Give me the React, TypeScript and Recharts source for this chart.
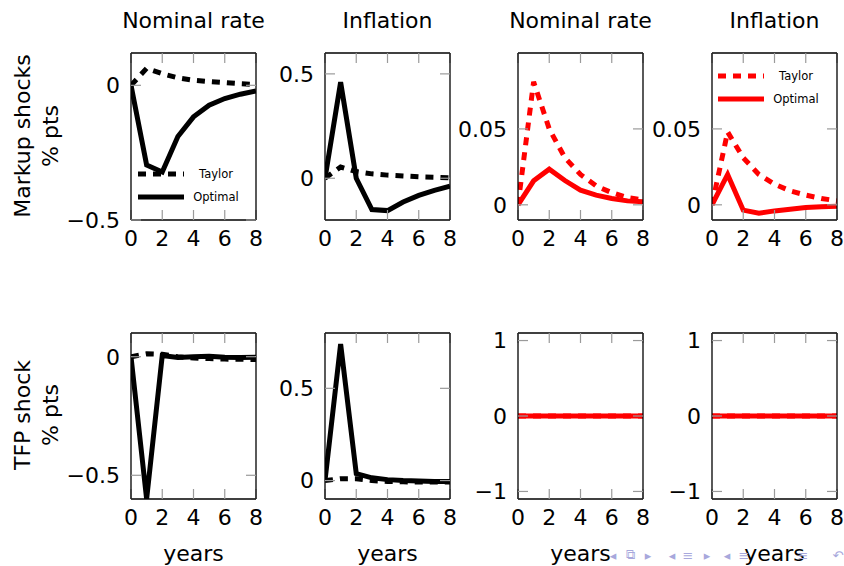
import React from 'react';
import { LineChart, Line, XAxis, YAxis, Legend } from 'recharts';

const FONT = '"DejaVu Sans", sans-serif';

// ---- shared labels ----
const years = [0, 1, 2, 3, 4, 5, 6, 7, 8];
const xTicks = [0, 2, 4, 6, 8];
const seriesNames = ['Taylor', 'Optimal'];
const columnTitles = ['Nominal rate', 'Inflation', 'Nominal rate', 'Inflation'];
const rowLabels = [
  ['Markup shocks', '% pts'],
  ['TFP shock', '% pts'],
];
const xAxisTitle = 'years';
const navSymbols = ['◂', '⧉', '▸', '◂', '≡', '▸', '◂', '≡', '≡', '↶'];

// ---- Markup shocks (black) ----
const markupRateTaylor = [0, 0.063, 0.043, 0.028, 0.019, 0.014, 0.01, 0.006, 0.003];
const markupRateOptimal = [0, -0.296, -0.322, -0.19, -0.117, -0.074, -0.049, -0.033, -0.021];
const markupInflTaylor = [0, 0.054, 0.032, 0.021, 0.015, 0.011, 0.007, 0.005, 0.002];
const markupInflOptimal = [0, 0.46, 0.0, -0.15, -0.155, -0.114, -0.082, -0.058, -0.038];
// ---- Markup shocks (red) ----
const markupRateTaylorR = [0, 0.081, 0.05, 0.031, 0.02, 0.0125, 0.008, 0.0048, 0.0033];
const markupRateOptimalR = [0, 0.0158, 0.0235, 0.016, 0.0097, 0.0064, 0.0042, 0.0026, 0.002];
const markupInflTaylorR = [0, 0.048, 0.031, 0.02, 0.0136, 0.0092, 0.0064, 0.0042, 0.0026];
const markupInflOptimalR = [0, 0.02, -0.0035, -0.0055, -0.004, -0.0029, -0.0018, -0.0013, -0.001];

// ---- TFP shock (black) ----
const tfpRateTaylor = [0, 0.012, 0.01, 0.0, -0.005, -0.008, -0.01, -0.011, -0.012];
const tfpRateOptimal = [0, -0.6, 0.005, -0.003, 0.0, 0.002, -0.002, -0.003, -0.002];
const tfpInflTaylor = [0, 0.01, 0.01, 0.0, -0.005, -0.007, -0.008, -0.008, -0.008];
const tfpInflOptimal = [0, 0.74, 0.038, 0.015, 0.005, 0.0, -0.003, -0.005, -0.005];
// ---- TFP shock (red) ----
const tfpRateTaylorR = [0, 0, 0, 0, 0, 0, 0, 0, 0];
const tfpRateOptimalR = [0, 0, 0, 0, 0, 0, 0, 0, 0];
const tfpInflTaylorR = [0, 0, 0, 0, 0, 0, 0, 0, 0];
const tfpInflOptimalR = [0, 0, 0, 0, 0, 0, 0, 0, 0];

// ---- y axes ----
const yTicksP1 = [-0.5, 0];
const yTicksP2 = [0, 0.5];
const yTicksP3 = [0, 0.05];
const yTicksP5 = [-0.5, 0];
const yTicksP6 = [0, 0.5];
const yTicksP7 = [-1, 0, 1];

const BLACK = '#000000';
const RED = '#ff0000';

const colLefts = [131, 325, 518, 712];
const rowTops = [53, 333];
const PLOT_W = 125;
const rowHeights = [167, 166];
const LW = 80; // left axis width
const TOP = 9; // + 1px top axis
const RIGHT = 9; // + 1px right axis
const BOTTOM = 45;
const TICK = 10;

const toTable = (a: number[], b: number[]) =>
  years.map((t, i) => ({ t, Taylor: a[i], Optimal: b[i] }));

type Panel = {
  row: number;
  col: number;
  color: string;
  taylor: number[];
  optimal: number[];
  domain: [number, number];
  ticks: number[];
  legend?: { x: number; y: number };
};

const panels: Panel[] = [
  { row: 0, col: 0, color: BLACK, taylor: markupRateTaylor, optimal: markupRateOptimal, domain: [-0.5, 0.12], ticks: yTicksP1, legend: { x: 138, y: 162 } },
  { row: 0, col: 1, color: BLACK, taylor: markupInflTaylor, optimal: markupInflOptimal, domain: [-0.2, 0.6], ticks: yTicksP2 },
  { row: 0, col: 2, color: RED, taylor: markupRateTaylorR, optimal: markupRateOptimalR, domain: [-0.01, 0.1], ticks: yTicksP3 },
  { row: 0, col: 3, color: RED, taylor: markupInflTaylorR, optimal: markupInflOptimalR, domain: [-0.01, 0.1], ticks: yTicksP3, legend: { x: 718, y: 64 } },
  { row: 1, col: 0, color: BLACK, taylor: tfpRateTaylor, optimal: tfpRateOptimal, domain: [-0.6, 0.1], ticks: yTicksP5 },
  { row: 1, col: 1, color: BLACK, taylor: tfpInflTaylor, optimal: tfpInflOptimal, domain: [-0.1, 0.8], ticks: yTicksP6 },
  { row: 1, col: 2, color: RED, taylor: tfpRateTaylorR, optimal: tfpRateOptimalR, domain: [-1.1, 1.1], ticks: yTicksP7 },
  { row: 1, col: 3, color: RED, taylor: tfpInflTaylorR, optimal: tfpInflOptimalR, domain: [-1.1, 1.1], ticks: yTicksP7 },
];

const fmt = (v: number) => String(v).replace('-', '\u2212');

const tickStyle = { fill: '#000', fontSize: 22, fontFamily: FONT };
const axisLineStyle = { stroke: '#000', strokeWidth: 1.3 };
const tickLineStyle = { stroke: '#9a9a9a', strokeWidth: 1.2 };
// top / right axes: tick marks only, no labels
const EmptyTick = () => <g />;

const LegendContent = (props: any) => {
  const payload = [...(props.payload || [])].sort(
    (a: any, b: any) => seriesNames.indexOf(a.value) - seriesNames.indexOf(b.value)
  );
  return (
    <div style={{ fontFamily: FONT, fontSize: 11.5, color: '#000' }}>
      {payload.map((entry: any, i: number) => (
        <div key={i} style={{ display: 'flex', alignItems: 'center', height: 23 }}>
          <svg width={46} height={10} style={{ display: 'block' }}>
            <line
              x1={0}
              y1={5}
              x2={46}
              y2={5}
              stroke={entry.color}
              strokeWidth={5}
              strokeDasharray={entry.payload && entry.payload.strokeDasharray}
            />
          </svg>
          <span style={{ width: 64, textAlign: 'center', display: 'inline-block' }}>{entry.value}</span>
        </div>
      ))}
    </div>
  );
};

const PanelChart = ({ p }: { p: Panel }) => {
  const plotH = rowHeights[p.row];
  const left = colLefts[p.col] - LW;
  const top = rowTops[p.row] - TOP - 1;
  const width = LW + PLOT_W + RIGHT + 1;
  const height = TOP + 1 + plotH + BOTTOM;
  const data = toTable(p.taylor, p.optimal);
  return (
    <div style={{ position: 'absolute', left, top }}>
      <LineChart width={width} height={height} data={data} margin={{ top: TOP, right: RIGHT, left: 0, bottom: 0 }}>
        <XAxis
          dataKey="t"
          type="number"
          domain={[0, 8]}
          ticks={xTicks}
          interval={0}
          allowDataOverflow
          height={BOTTOM}
          tickSize={-TICK}
          tickMargin={TICK + 10}
          tick={tickStyle}
          axisLine={axisLineStyle}
          tickLine={tickLineStyle}
        />
        <XAxis
          xAxisId="top"
          orientation="top"
          dataKey="t"
          type="number"
          domain={[0, 8]}
          ticks={xTicks}
          interval={0}
          allowDataOverflow
          height={1}
          tickSize={-TICK}
          tick={<EmptyTick />}
          axisLine={axisLineStyle}
          tickLine={tickLineStyle}
        />
        <YAxis
          type="number"
          domain={p.domain}
          ticks={p.ticks}
          interval={0}
          allowDataOverflow
          width={LW}
          tickSize={-TICK}
          tickMargin={TICK + 11}
          tick={tickStyle}
          tickFormatter={fmt}
          axisLine={axisLineStyle}
          tickLine={tickLineStyle}
        />
        <YAxis
          yAxisId="right"
          orientation="right"
          type="number"
          domain={p.domain}
          ticks={p.ticks}
          interval={0}
          allowDataOverflow
          width={1}
          tickSize={-TICK}
          tick={<EmptyTick />}
          axisLine={axisLineStyle}
          tickLine={tickLineStyle}
        />
        {p.legend && (
          <Legend
            layout="vertical"
            align="center"
            verticalAlign="middle"
            content={<LegendContent />}
            wrapperStyle={{ left: p.legend.x - left, top: p.legend.y - top, width: 112 }}
          />
        )}
        <Line
          dataKey={seriesNames[0]}
          name={seriesNames[0]}
          type="linear"
          stroke={p.color}
          strokeWidth={5}
          strokeDasharray="8 7"
          dot={false}
          activeDot={false}
          isAnimationActive={false}
        />
        <Line
          dataKey={seriesNames[1]}
          name={seriesNames[1]}
          type="linear"
          stroke={p.color}
          strokeWidth={5}
          dot={false}
          activeDot={false}
          isAnimationActive={false}
        />
      </LineChart>
    </div>
  );
};

const textBase: React.CSSProperties = {
  position: 'absolute',
  fontFamily: FONT,
  fontSize: 22,
  lineHeight: '22px',
  color: '#000',
  whiteSpace: 'nowrap',
};

const navXs = [613, 630, 648, 672, 688, 707, 727, 744, 803, 838];

export default function App() {
  return (
    <div style={{ position: 'absolute', left: 0, top: 0, width: 844, height: 566, background: '#fff', overflow: 'hidden' }}>
      {panels.map((p, i) => (
        <PanelChart key={i} p={p} />
      ))}
      {columnTitles.map((t, i) => (
        <div key={'t' + i} style={{ ...textBase, left: colLefts[i] + PLOT_W / 2, top: 10, transform: 'translateX(-50%)' }}>
          {t}
        </div>
      ))}
      {rowLabels.map((lines, r) => (
        <div
          key={'r' + r}
          style={{
            ...textBase,
            lineHeight: '28px',
            textAlign: 'center',
            left: 37,
            top: rowTops[r] + rowHeights[r] / 2 - 1,
            transform: 'translate(-50%, -50%) rotate(-90deg)',
          }}
        >
          {lines.map((l, k) => (
            <div key={k}>{l}</div>
          ))}
        </div>
      ))}
      {columnTitles.map((_, i) => (
        <div key={'y' + i} style={{ ...textBase, left: colLefts[i] + PLOT_W / 2, top: 543, transform: 'translateX(-50%)' }}>
          {xAxisTitle}
        </div>
      ))}
      {navSymbols.map((s, i) => (
        <div
          key={'n' + i}
          style={{
            position: 'absolute',
            left: navXs[i],
            top: 555,
            transform: 'translate(-50%, -50%)',
            fontFamily: FONT,
            fontSize: 13,
            color: '#a8a8dc',
          }}
        >
          {s}
        </div>
      ))}
    </div>
  );
}
